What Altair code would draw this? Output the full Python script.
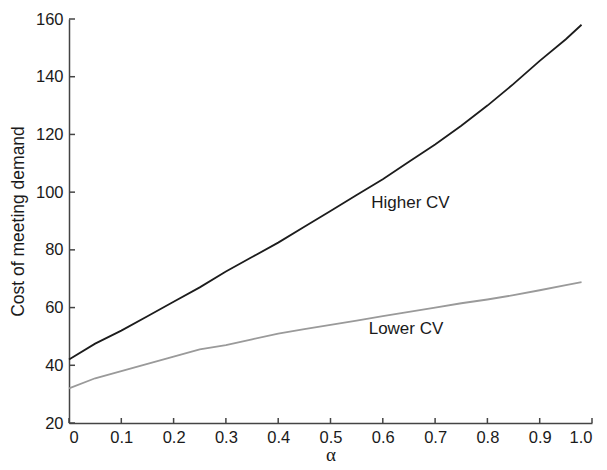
import altair as alt
import pandas as pd

# alpha grid and cost of meeting demand for the two coefficient-of-variation cases
alpha = [0.0, 0.05, 0.10, 0.15, 0.20, 0.25, 0.30, 0.35, 0.40, 0.45, 0.50,
         0.55, 0.60, 0.65, 0.70, 0.75, 0.80, 0.85, 0.90, 0.95, 0.98]
higher_cv = [42.0, 47.5, 52.0, 57.0, 62.0, 67.0, 72.5, 77.5, 82.5, 88.0, 93.5,
             99.0, 104.5, 110.5, 116.5, 123.0, 130.0, 137.5, 145.5, 153.0, 158.0]
lower_cv = [32.0, 35.5, 38.0, 40.5, 43.0, 45.5, 47.0, 49.0, 51.0, 52.5, 54.0,
            55.5, 57.0, 58.5, 60.0, 61.5, 62.8, 64.3, 66.0, 67.8, 68.8]

x_ticks = [0.0, 0.1, 0.2, 0.3, 0.4, 0.5, 0.6, 0.7, 0.8, 0.9, 1.0]
y_ticks = [20, 40, 60, 80, 100, 120, 140, 160]

label_text = ["Higher CV", "Lower CV"]
label_x = [0.578, 0.573]
label_y = [96.2, 52.6]

W, H = 523, 404
FONT = "Liberation Sans"

df = pd.DataFrame({
    "alpha": alpha * 2,
    "cost": higher_cv + lower_cv,
    "series": ["Higher CV"] * len(alpha) + ["Lower CV"] * len(alpha),
})

xs = alt.Scale(domain=[0, 1], nice=False, zero=False)
ys = alt.Scale(domain=[20, 160], nice=False, zero=False)

x_axis = alt.Axis(values=x_ticks, format=".1~f", tickSize=0, labelPadding=6,
                  title="α", titlePadding=0, titleFontSize=19, titleFont="Liberation Serif",
                  labelExpr="datum.value == 0 ? '0' : (datum.value == 1 ? '1.0' : datum.label)")
y_axis = alt.Axis(values=y_ticks, tickSize=0, labelPadding=6,
                  title="Cost of meeting demand", titlePadding=8, titleFontSize=17.5)

lines = alt.Chart(df).mark_line(strokeWidth=1.8, interpolate="linear").encode(
    x=alt.X("alpha:Q", scale=xs, axis=x_axis),
    y=alt.Y("cost:Q", scale=ys, axis=y_axis),
    color=alt.Color("series:N", scale=alt.Scale(domain=["Higher CV", "Lower CV"],
                                                range=["#1c1c1c", "#9a9a9a"]),
                    legend=None),
)

labels = alt.Chart(pd.DataFrame({"t": label_text, "a": label_x, "c": label_y})).mark_text(
    align="left", baseline="middle", font=FONT, fontSize=17, color="#1a1a1a"
).encode(x=alt.X("a:Q", scale=xs), y=alt.Y("c:Q", scale=ys), text="t:N")

# inward-pointing tick marks along both axes
xt = alt.Chart(pd.DataFrame({"v": x_ticks})).mark_rule(color="#444", strokeWidth=1.5).encode(
    x=alt.X("v:Q", scale=xs), y=alt.value(H), y2=alt.value(H - 5))
yt = alt.Chart(pd.DataFrame({"v": y_ticks})).mark_rule(color="#444", strokeWidth=1.5).encode(
    y=alt.Y("v:Q", scale=ys), x=alt.value(0), x2=alt.value(6))

chart = alt.layer(lines, labels, xt, yt).properties(
    width=W, height=H,
    autosize=alt.AutoSizeParams(type="none"),
    padding={"left": 69, "top": 19, "right": 15, "bottom": 47},
).configure_view(strokeWidth=0).configure_axis(
    grid=False, domainColor="#444", domainWidth=1.5,
    labelFont=FONT, labelFontSize=16.5, labelColor="#1a1a1a",
    titleFont=FONT, titleColor="#1a1a1a", titleFontWeight="normal",
)

chart.save("out.html", embed_options={"renderer": "svg", "actions": False})
